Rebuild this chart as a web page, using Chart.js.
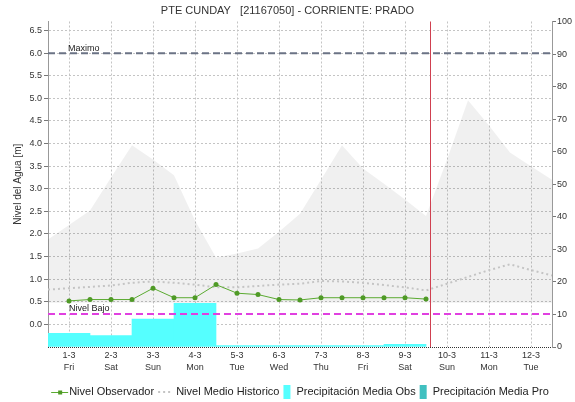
<!DOCTYPE html>
<html>
<head>
<meta charset="utf-8">
<script src="https://cdn.jsdelivr.net/npm/chart.js@4.4.0/dist/chart.umd.min.js"></script>
<style>
  html, body { margin: 0; padding: 0; background: #fff; }
</style>
</head>
<body>
<canvas id="nivelChart" width="575" height="402"></canvas>
<script>
// datos
const dayLabels = ['1-3', '2-3', '3-3', '4-3', '5-3', '6-3', '7-3', '8-3', '9-3', '10-3', '11-3', '12-3']
const weekDays = ['Fri', 'Sat', 'Sun', 'Mon', 'Tue', 'Wed', 'Thu', 'Fri', 'Sat', 'Sun', 'Mon', 'Tue']

// nivel observado cada 12 horas (dia 0 = 1-3)
const obsTimes = [0, 0.5, 1, 1.5, 2, 2.5, 3, 3.5, 4, 4.5, 5, 5.5, 6, 6.5, 7, 7.5, 8, 8.5]
const nivelObs = [0.52, 0.55, 0.55, 0.55, 0.80, 0.59, 0.59, 0.88, 0.69, 0.66, 0.55, 0.54, 0.59, 0.59, 0.59, 0.59, 0.59, 0.56]

// nivel medio historico y banda historica
const histTimes = [-0.5, 0, 0.5, 1, 1.5, 2, 2.5, 3, 3.5, 4, 4.5, 5, 5.5, 6, 6.5, 7, 7.5, 8, 8.5, 9, 9.5, 10, 10.5, 11, 11.5]
const nivelHist = [0.77, 0.80, 0.83, 0.86, 0.92, 0.95, 0.92, 0.88, 0.82, 0.82, 0.85, 0.88, 0.90, 0.96, 0.95, 0.92, 0.87, 0.82, 0.75, 0.90, 1.05, 1.20, 1.33, 1.20, 1.08]
const bandaMax = [1.88, 2.20, 2.52, 3.25, 3.96, 3.65, 3.30, 2.30, 1.48, 1.57, 1.68, 2.05, 2.45, 3.20, 3.96, 3.45, 3.11, 2.76, 2.40, 3.65, 4.96, 4.40, 3.80, 3.50, 3.20]
const bandaMin = [0.48, 0.48, 0.48, 0.48, 0.48, 0.48, 0.48, 0.48, 0.48, 0.48, 0.48, 0.48, 0.48, 0.48, 0.48, 0.48, 0.48, 0.48, 0.48, 0.48, 0.48, 0.48, 0.48, 0.48, 0.48]

// precipitacion diaria [mm]
const precipDays = [0, 1, 2, 3, 4, 5, 6, 7, 8]
const precipObs = [4.2, 3.5, 8.6, 13.4, 0.4, 0.4, 0.4, 0.4, 0.8]
const precipPro = []

const nivelMaximo = 6.0
const nivelBajo = 0.23
const ahora = 8.6

const chartTitle = 'PTE CUNDAY   [21167050] - CORRIENTE: PRADO'
const fontFamily = '"Liberation Sans", Arial, sans-serif'

Chart.defaults.font.family = fontFamily
Chart.defaults.color = '#333'

const toXY = (xs, ys) => ys.map((v, i) => ({ x: xs[i], y: v }))

const marksPlugin = {
    id: 'marcas',
    afterDatasetsDraw(chart) {
        const { ctx, chartArea, scales } = chart
        ctx.save()
        // eje inferior punteado
        ctx.strokeStyle = '#333'
        ctx.lineWidth = 1
        ctx.setLineDash([1, 1])
        ctx.beginPath()
        ctx.moveTo(chartArea.left, chartArea.bottom + 0.5)
        ctx.lineTo(chartArea.right, chartArea.bottom + 0.5)
        ctx.stroke()
        ctx.setLineDash([])
        // linea de hora actual
        const xNow = Math.round(scales.x.getPixelForValue(ahora)) + 0.5
        ctx.strokeStyle = '#d04050'
        ctx.beginPath()
        ctx.moveTo(xNow, chartArea.top)
        ctx.lineTo(xNow, chartArea.bottom)
        ctx.stroke()
        // etiquetas de niveles
        ctx.fillStyle = '#222'
        ctx.font = '9px ' + fontFamily
        ctx.textBaseline = 'alphabetic'
        ctx.fillText('Maximo', scales.x.getPixelForValue(0) - 1, scales.y.getPixelForValue(nivelMaximo) - 2)
        ctx.fillText('Nivel Bajo', scales.x.getPixelForValue(0), scales.y.getPixelForValue(nivelBajo) - 2.5)
        ctx.restore()
    }
}

const legendPlugin = {
    id: 'leyenda',
    afterDraw(chart) {
        const ctx = chart.ctx
        const items = [
            { text: 'Nivel Observador', symW: 17, gap: 1, draw: (x, y) => {
                ctx.strokeStyle = '#5aaa30'; ctx.lineWidth = 1
                ctx.beginPath(); ctx.moveTo(x, y + 0.5); ctx.lineTo(x + 17, y + 0.5); ctx.stroke()
                ctx.fillStyle = '#4f9a26'; ctx.fillRect(x + 7, y - 1.5, 4, 4)
            } },
            { text: 'Nivel Medio Historico', symW: 15, gap: 3, draw: (x, y) => {
                ctx.strokeStyle = '#c4c4c4'; ctx.lineWidth = 2; ctx.setLineDash([2, 3])
                ctx.beginPath(); ctx.moveTo(x, y); ctx.lineTo(x + 15, y); ctx.stroke(); ctx.setLineDash([])
            } },
            { text: 'Precipitación Media Obs', symW: 7, gap: 6, draw: (x, y) => {
                ctx.fillStyle = '#55ffff'; ctx.fillRect(x, y - 7, 7, 14)
            } },
            { text: 'Precipitación Media Pro', symW: 7, gap: 6, draw: (x, y) => {
                ctx.fillStyle = '#40c0c0'; ctx.fillRect(x, y - 7, 7, 14)
            } }
        ]
        ctx.save()
        ctx.font = '11px ' + fontFamily
        const widths = items.map(it => it.symW + it.gap + ctx.measureText(it.text).width)
        const spacing = 4
        const total = widths.reduce((a, b) => a + b, 0) + spacing * (items.length - 1)
        let x = (chart.chartArea.left + chart.chartArea.right) / 2 - total / 2
        const y = 392
        items.forEach((it, i) => {
            it.draw(x, y)
            ctx.fillStyle = '#222'
            ctx.textBaseline = 'middle'
            ctx.fillText(it.text, x + it.symW + it.gap, y)
            x += widths[i] + spacing
        })
        ctx.restore()
    }
}

const nivelChart = new Chart(document.getElementById('nivelChart'), {
    type: 'line',
    data: {
        datasets: [
            {
                label: 'Nivel Observador',
                data: toXY(obsTimes, nivelObs),
                borderColor: '#5aaa30',
                backgroundColor: '#4f9a26',
                borderWidth: 1,
                pointRadius: 2.5,
                pointBorderWidth: 0,
                fill: false,
                order: 1
            },
            {
                label: 'Nivel Medio Historico',
                data: toXY(histTimes, nivelHist),
                borderColor: '#c4c4c4',
                borderWidth: 2,
                borderDash: [2, 3],
                pointRadius: 0,
                fill: false,
                order: 3
            },
            {
                type: 'bar',
                label: 'Precipitación Media Obs',
                data: toXY(precipDays, precipObs),
                yAxisID: 'y1',
                backgroundColor: '#55ffff',
                borderWidth: 0,
                barPercentage: 1,
                categoryPercentage: 1,
                grouped: false,
                order: 5
            },
            {
                type: 'bar',
                label: 'Precipitación Media Pro',
                data: toXY(precipDays, precipPro),
                yAxisID: 'y1',
                backgroundColor: '#40c0c0',
                borderWidth: 0,
                barPercentage: 1,
                categoryPercentage: 1,
                grouped: false,
                order: 5
            },
            {
                label: 'Maximo',
                data: [{ x: -0.5, y: nivelMaximo }, { x: 11.5, y: nivelMaximo }],
                borderColor: '#6b7385',
                borderWidth: 2,
                borderDash: [7, 4],
                pointRadius: 0,
                fill: false,
                order: 2
            },
            {
                label: 'Nivel Bajo',
                data: [{ x: -0.5, y: nivelBajo }, { x: 11.5, y: nivelBajo }],
                borderColor: '#e040e0',
                borderWidth: 2,
                borderDash: [7, 4],
                pointRadius: 0,
                fill: false,
                order: 2
            },
            {
                label: 'banda min',
                data: toXY(histTimes, bandaMin),
                borderWidth: 0,
                pointRadius: 0,
                fill: false,
                order: 8
            },
            {
                label: 'banda max',
                data: toXY(histTimes, bandaMax),
                borderWidth: 0,
                pointRadius: 0,
                backgroundColor: 'rgba(0,0,0,0.06)',
                fill: '-1',
                order: 8
            }
        ]
    },
    options: {
        responsive: false,
        animation: false,
        layout: { padding: { left: 0, right: 0, top: 0, bottom: 30 } },
        plugins: {
            legend: { display: false },
            tooltip: { enabled: false },
            title: {
                display: true,
                text: chartTitle,
                color: '#333',
                font: { size: 11, weight: 'normal' },
                padding: { top: 4.5, bottom: 3.8 }
            }
        },
        scales: {
            x: {
                type: 'linear',
                min: -0.5,
                max: 11.5,
                offset: false,
                afterBuildTicks: (s) => { s.ticks = dayLabels.map((d, i) => ({ value: i })) },
                afterFit: (s) => { s.height = 25 },
                ticks: {
                    autoSkip: false,
                    maxRotation: 0,
                    padding: 3,
                    color: '#333',
                    font: { size: 9, lineHeight: 1.33 },
                    callback: (v, i) => [dayLabels[i], weekDays[i]]
                },
                grid: { color: '#c4c4c4', drawTicks: false, offset: false },
                border: { display: false, dash: [2, 2] }
            },
            y: {
                position: 'left',
                min: -0.5,
                max: 6.7,
                afterBuildTicks: (s) => { s.ticks = s.ticks.filter(t => t.value >= 0 && t.value <= 6.5) },
                afterFit: (s) => { s.width = 48 },
                ticks: {
                    stepSize: 0.5,
                    includeBounds: false,
                    padding: 2,
                    color: '#333',
                    font: { size: 9 },
                    callback: (v) => v.toFixed(1)
                },
                grid: { color: '#c4c4c4', tickColor: '#777', tickLength: 4, tickBorderDash: [] },
                border: { display: true, color: '#999', dash: [2, 2] },
                title: {
                    display: true,
                    text: 'Nivel del Agua [m]',
                    color: '#333',
                    font: { size: 10 },
                    padding: { top: 12, bottom: 0 }
                }
            },
            y1: {
                position: 'right',
                min: 0,
                max: 100,
                afterFit: (s) => { s.width = 23 },
                ticks: { stepSize: 10, padding: 1, color: '#333', font: { size: 9 } },
                grid: { drawOnChartArea: false, tickColor: '#777', tickLength: 4 },
                border: { display: true, color: '#999' }
            }
        }
    },
    plugins: [marksPlugin, legendPlugin]
})
</script>
</body>
</html>
